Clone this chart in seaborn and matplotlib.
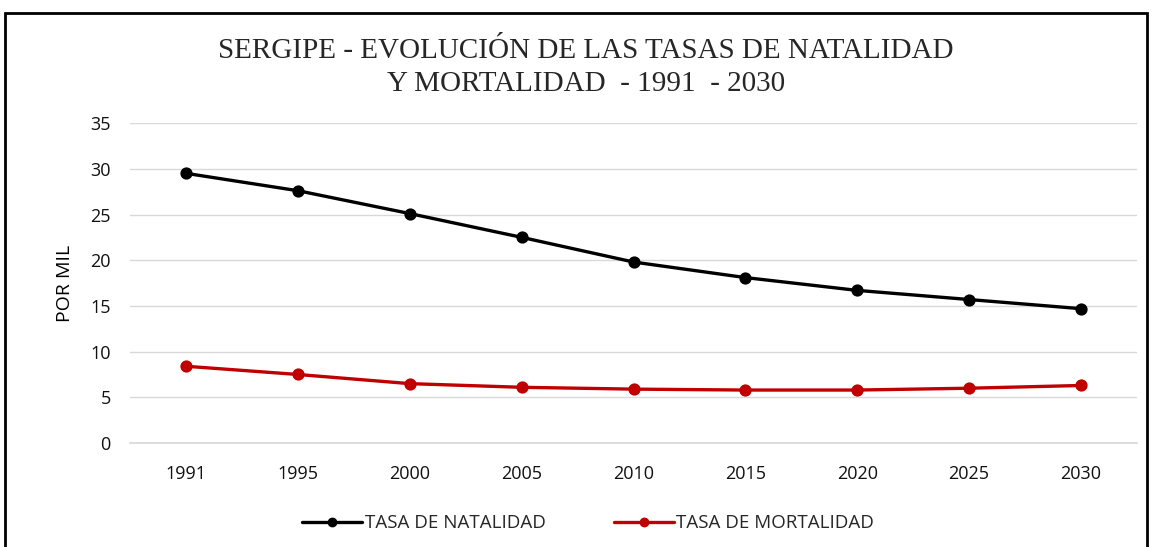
import matplotlib
matplotlib.use("Agg")
import matplotlib.pyplot as plt
import pandas as pd
import seaborn as sns
from matplotlib.patches import Rectangle

years = ["1991", "1995", "2000", "2005", "2010", "2015", "2020", "2025", "2030"]
natalidad = [29.5, 27.6, 25.1, 22.5, 19.8, 18.1, 16.7, 15.7, 14.7]
mortalidad = [8.4, 7.5, 6.5, 6.1, 5.9, 5.8, 5.8, 6.0, 6.3]
series_names = ["TASA DE NATALIDAD", "TASA DE MORTALIDAD"]
colors = ["#000000", "#C00000"]

df = pd.DataFrame({
    "year": years * 2,
    "value": natalidad + mortalidad,
    "serie": [series_names[0]] * len(years) + [series_names[1]] * len(years),
})

sns.set_theme(style="white")
plt.rcParams["font.family"] = ["Open Sans", "DejaVu Sans"]

fig = plt.figure(figsize=(11.53, 5.47), dpi=100)
ax = fig.add_axes([0.113, 0.19, 0.873, 0.585])

sns.pointplot(data=df, x="year", y="value", hue="serie", order=years,
              hue_order=series_names, palette=colors, markers="o",
              markersize=7, linewidth=2.4, ax=ax, legend=True)

ax.set_xlim(-0.5, len(years) - 0.5)
ax.set_ylim(0, 35)
ax.set_yticks(range(0, 36, 5))
ax.yaxis.grid(True, color="#D9D9D9", lw=1)
ax.set_axisbelow(True)
for s in ["top", "right", "left"]:
    ax.spines[s].set_visible(False)
ax.spines["bottom"].set_color("#D9D9D9")
ax.tick_params(axis="both", labelsize=13, colors="#111111", length=0)
ax.tick_params(axis="x", pad=16)
ax.tick_params(axis="y", pad=14)
ax.set_xlabel("")
ax.set_ylabel("POR MIL", fontsize=14, color="#000000", labelpad=12)

leg = ax.legend(loc="upper center", bbox_to_anchor=(0.455, -0.17), ncol=2,
                frameon=False, fontsize=13.5, handlelength=3.2, columnspacing=3.6,
                handletextpad=0.15, markerscale=0.75)

fig.text(0.508, 0.907, "SERGIPE - EVOLUCIÓN DE LAS TASAS DE NATALIDAD",
         ha="center", va="center", fontsize=21, family="Liberation Serif")
fig.text(0.508, 0.847, "Y MORTALIDAD  - 1991  - 2030",
         ha="center", va="center", fontsize=21, family="Liberation Serif")

fig.patches.append(Rectangle((0.004, -0.05), 0.991, 1.027, transform=fig.transFigure,
                             fill=False, edgecolor="black", lw=2))

fig.savefig("out.png", dpi=100)
